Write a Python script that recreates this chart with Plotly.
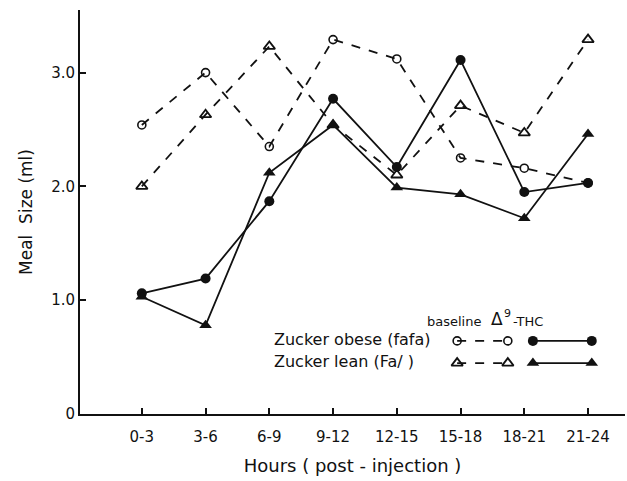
import plotly.graph_objects as go

categories = ["0-3", "3-6", "6-9", "9-12", "12-15", "15-18", "18-21", "21-24"]
obese_baseline = [2.54, 3.00, 2.35, 3.29, 3.12, 2.25, 2.16, 2.03]
lean_baseline = [2.00, 2.63, 3.23, 2.54, 2.10, 2.71, 2.47, 3.29]
obese_thc = [1.06, 1.19, 1.87, 2.77, 2.17, 3.11, 1.95, 2.03]
lean_thc = [1.03, 0.78, 2.12, 2.54, 1.99, 1.93, 1.72, 2.46]
y_ticks = [0, 1.0, 2.0, 3.0]
y_tick_text = ["0", "1.0", "2.0", "3.0"]

FONT = "DejaVu Sans"
BLACK = "#111111"
x = list(range(len(categories)))

open_circle = dict(symbol="circle-open", size=8, color=BLACK, line=dict(width=1.6, color=BLACK))
filled_circle = dict(symbol="circle", size=10, color=BLACK)
open_tri = dict(symbol="triangle-up-open", size=10, color=BLACK, line=dict(width=1.8, color=BLACK))
filled_tri = dict(symbol="triangle-up", size=11, color=BLACK)

fig = go.Figure()
fig.add_trace(go.Scatter(x=x, y=obese_baseline, mode="lines+markers",
                         line=dict(color=BLACK, width=1.8, dash="dash"), marker=open_circle))
fig.add_trace(go.Scatter(x=x, y=lean_baseline, mode="lines+markers",
                         line=dict(color=BLACK, width=1.8, dash="dash"), marker=open_tri))
fig.add_trace(go.Scatter(x=x, y=obese_thc, mode="lines+markers",
                         line=dict(color=BLACK, width=1.8), marker=filled_circle))
fig.add_trace(go.Scatter(x=x, y=lean_thc, mode="lines+markers",
                         line=dict(color=BLACK, width=1.8), marker=filled_tri))

# custom legend samples (plot-area fraction coordinates on an overlay axis)
leg_rows = [(0.181, open_circle, filled_circle), (0.126, open_tri, filled_tri)]
for yy, mb, mt in leg_rows:
    fig.add_trace(go.Scatter(x=[0.692, 0.785], y=[yy, yy], xaxis="x2", yaxis="y2",
                             mode="lines+markers", line=dict(color=BLACK, width=1.8, dash="dash"),
                             marker=mb))
    fig.add_trace(go.Scatter(x=[0.831, 0.939], y=[yy, yy], xaxis="x2", yaxis="y2",
                             mode="lines+markers", line=dict(color=BLACK, width=1.8),
                             marker=mt))

ann = [
    dict(text="baseline", x=0.687, y=0.230, xanchor="center", size=13),
    dict(text="Δ", x=0.751, y=0.234, xanchor="left", size=17),
    dict(text="9", x=0.775, y=0.248, xanchor="left", size=11),
    dict(text="-THC", x=0.790, y=0.228, xanchor="left", size=13),
    dict(text="Zucker obese (fafa)", x=0.352, y=0.184, xanchor="left", size=16),
    dict(text="Zucker lean (Fa/ )", x=0.352, y=0.129, xanchor="left", size=16),
]
annotations = []
for a in ann:
    a = dict(a)
    sz = a.pop("size")
    annotations.append(dict(xref="paper", yref="paper", yanchor="middle", showarrow=False,
                            font=dict(family=FONT, size=sz, color=BLACK), **a))

fig.update_layout(
    width=627, height=481,
    margin=dict(l=80, r=2, t=10, b=67),
    paper_bgcolor="white", plot_bgcolor="white",
    showlegend=False,
    font=dict(family=FONT, color=BLACK),
    annotations=annotations,
    xaxis=dict(range=[-0.97, 7.58], tickmode="array", tickvals=x, ticktext=categories,
               showgrid=False, zeroline=False, showline=True, linecolor=BLACK, linewidth=1.8,
               ticks="inside", ticklen=6, tickwidth=1.5, tickcolor=BLACK,
               ticklabelstandoff=8,
               tickfont=dict(family=FONT, size=15, color=BLACK),
               title=dict(text="Hours ( post - injection )", font=dict(family=FONT, size=18, color=BLACK),
                          standoff=14)),
    yaxis=dict(range=[0, 3.55], tickmode="array", tickvals=y_ticks, ticktext=y_tick_text,
               showgrid=False, zeroline=False, showline=True, linecolor=BLACK, linewidth=1.8,
               ticks="inside", ticklen=6, tickwidth=1.5, tickcolor=BLACK,
               ticklabelstandoff=0,
               tickfont=dict(family=FONT, size=15, color=BLACK),
               title=dict(text="Meal  Size (ml)", font=dict(family=FONT, size=17, color=BLACK),
                          standoff=14)),
    xaxis2=dict(range=[0, 1], overlaying="x", visible=False, fixedrange=True),
    yaxis2=dict(range=[0, 1], overlaying="y", visible=False, fixedrange=True),
)

fig.write_html("out.html")
